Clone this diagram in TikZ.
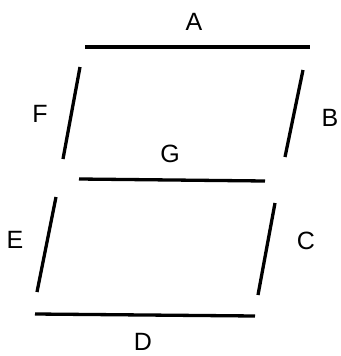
\documentclass[tikz,border=0pt]{standalone}
\usepackage{fontspec}
\setmainfont{Liberation Sans}
\begin{document}
\begin{tikzpicture}[x=1pt,y=-1pt,
  seg/.style={line width=3.3pt,line cap=butt,black},
  lab/.style={font=\fontsize{25}{28}\selectfont,inner sep=0pt}]
\useasboundingbox (0,0) rectangle (340,356);
% segment end points
\coordinate (a1) at (85,47);  \coordinate (a2) at (310,47);
\coordinate (b1) at (303,70); \coordinate (b2) at (285,157);
\coordinate (g1) at (79,179); \coordinate (g2) at (265,181);
\coordinate (f1) at (80,67);  \coordinate (f2) at (63,159);
\coordinate (e1) at (56,197); \coordinate (e2) at (37,292);
\coordinate (c1) at (275,203);\coordinate (c2) at (258,295);
\coordinate (d1) at (35,314); \coordinate (d2) at (255,316);
\draw[seg] (a1) -- (a2);
\draw[seg] (b1) -- (b2);
\draw[seg] (g1) -- (g2);
\draw[seg] (f1) -- (f2);
\draw[seg] (e1) -- (e2);
\draw[seg] (c1) -- (c2);
\draw[seg] (d1) -- (d2);
% labels
\node[lab] (A) at (194,22) {A};
\node[lab] (B) at (330,118) {B};
\node[lab] (C) at (306,241) {C};
\node[lab] (D) at (143,342) {D};
\node[lab] (E) at (15,240) {E};
\node[lab] (F) at (40,114) {F};
\node[lab] (G) at (170,154) {G};
\end{tikzpicture}
\end{document}
